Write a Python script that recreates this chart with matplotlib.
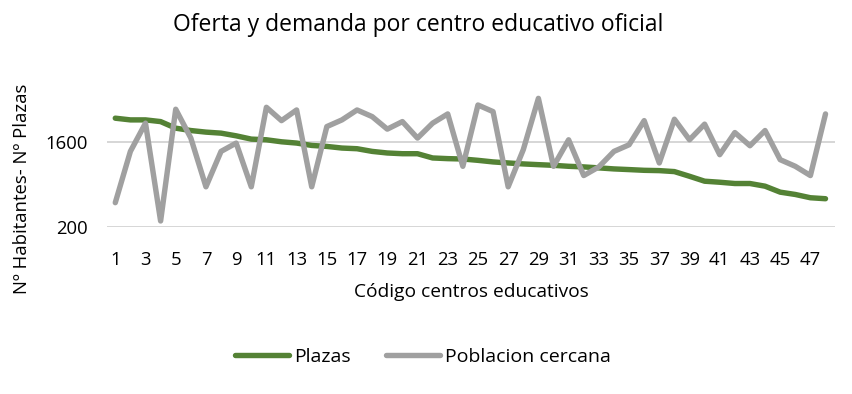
import numpy as np
import matplotlib
matplotlib.use('Agg')
import matplotlib.pyplot as plt

centros = list(range(1, 49))
plazas = [1988, 1960, 1960, 1932, 1824, 1785, 1759, 1742, 1698, 1644,
          1633, 1600, 1579, 1540, 1524, 1497, 1486, 1442, 1416, 1404,
          1404, 1334, 1323, 1317, 1295, 1269, 1252, 1236, 1224, 1213,
          1197, 1187, 1171, 1154, 1143, 1131, 1126, 1110, 1033, 952,
          935, 914, 914, 870, 772, 734, 680, 664]
poblacion = [599, 1442, 1906, 298, 2135, 1661, 860, 1442, 1579, 860,
             2167, 1948, 2123, 860, 1850, 1960, 2123, 2014, 1808, 1932,
             1661, 1906, 2058, 1197, 2205, 2096, 860, 1470, 2314, 1197,
             1633, 1045, 1187, 1442, 1551, 1948, 1252, 1971, 1633, 1890,
             1388, 1752, 1535, 1785, 1306, 1197, 1045, 2058]
yticks = [200, 1600]

plt.rcParams['font.family'] = ['Open Sans', 'DejaVu Sans']

fig = plt.figure(figsize=(8.53, 3.94), dpi=100)
ax = fig.add_axes([0.1254, 0.424, 0.853, 0.335])

ax.plot(centros, plazas, color='#548235', lw=3.9, solid_capstyle='round',
        label='Plazas', clip_on=False, zorder=3)
ax.plot(centros, poblacion, color='#A0A0A0', lw=3.9, solid_capstyle='round',
        label='Poblacion cercana', clip_on=False, zorder=3)

ax.set_xlim(0.45, 48.6)
ax.set_ylim(200, 2370)
ax.set_xticks(centros[::2])
ax.set_yticks(yticks)
ax.yaxis.grid(True, color='#D0D0D0', lw=1.2)
ax.tick_params(length=0, labelsize=13.3)
ax.tick_params(axis='x', pad=17)
ax.tick_params(axis='y', pad=14)
for s in ax.spines.values():
    s.set_visible(False)

fig.text(0.553, 0.259, 'Código centros educativos', ha='center', va='center',
         fontsize=13.8)
fig.text(0.026, 0.52, 'Nº Habitantes- Nº Plazas', ha='center', va='center',
         rotation=90, fontsize=13.3)
fig.text(0.49, 0.937, 'Oferta y demanda por centro educativo oficial',
         ha='center', va='center', fontsize=16.5)
fig.legend(loc='center', bbox_to_anchor=(0.496, 0.094), ncol=2, frameon=False,
           fontsize=14, handlelength=2.8, columnspacing=1.8, handletextpad=0.25)

fig.savefig('out.png', dpi=100)
